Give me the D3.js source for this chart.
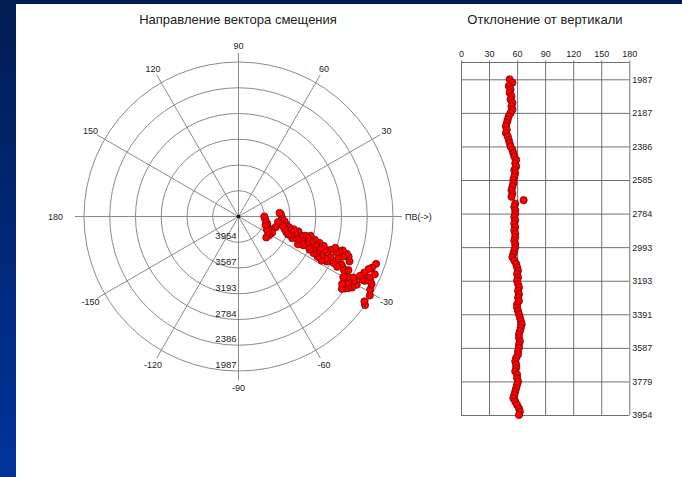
<!DOCTYPE html>
<html>
<head>
<meta charset="utf-8">
<script src="https://cdn.jsdelivr.net/npm/d3@7"></script>
<style>
  html, body { margin: 0; padding: 0; background: #ffffff; }
  svg { display: block; font-family: "Liberation Sans", Arial, sans-serif; }
</style>
</head>
<body>
<svg id="chart" width="682" height="477"></svg>
<script>
// Survey stations, index 0..100 (top to bottom of the well section)
const depthLabels = [1987, 2187, 2386, 2585, 2784, 2993, 3193, 3391, 3587, 3779, 3954];
const inclTicks = [0, 30, 60, 90, 120, 150, 180];
const angleTicks = [0, 30, 60, 90, 120, 150, 180, -150, -120, -90, -60, -30];
const zeroLabel = "ПВ(->)";

// Deviation from vertical, degrees, per station
const inclination = [
  52, 55, 51, 53, 52, 54, 53, 55, 54, 55, 53,
  51, 50, 49, 48, 49, 48, 50, 51, 52, 53,
  55, 56, 57, 59, 58, 59, 57, 58, 57, 56,
  56, 55, 54, 55, 54, 67, 58, 57, 58, 58,
  57, 58, 57, 58, 57, 58, 58, 57, 58, 58,
  57, 56, 55, 57, 59, 60, 61, 60, 61, 60,
  61, 62, 61, 62, 61, 62, 60, 60, 61, 62,
  63, 64, 65, 64, 63, 62, 62, 63, 62, 62,
  61, 61, 59, 58, 59, 59, 58, 60, 60, 61,
  60, 59, 58, 57, 56, 58, 60, 62, 63, 62
];

// Direction of the displacement vector, degrees (0 = ПВ, counter-clockwise positive)
const azimuth = [
  -35, -31, -34, -29, -27, -23, -26, -19, -25, -21, -27,
  -22, -27, -24, -30, -26, -32, -29, -33, -28, -34,
  -31, -35, -29, -33, -26, -30, -22, -27, -20, -26,
  -19, -25, -21, -27, -18, -23, -19, -26, -20, -25,
  -18, -24, -27, -20, -26, -22, -28, -21, -25, -19,
  -27, -21, -25, -18, -26, -20, -24, -17, -25, -19,
  -23, -15, -21, -17, -24, -16, -22, -18, -25, -17,
  -21, -14, -20, -16, -22, -13, -19, -15, -20, -12,
  -18, -10, -15, -6, -12, -2, 3, 5, -8, -16,
  -26, -31, -37, -28, -21, -24, -14, -17, -7, 0
];

const stations = inclination.map((v, i) => ({ i, incl: v, az: azimuth[i] }));

const svg = d3.select("#chart");
const W = 682, H = 477;
const polarGrid = "#8a8a8a";
const profGrid = "#707070";
const textColor = "#222";

// ---- slide frame: dark top band and blue gradient strip on the left
const defs = svg.append("defs");
const grad = defs.append("linearGradient").attr("id", "leftStrip")
  .attr("x1", 0).attr("y1", 0).attr("x2", 0).attr("y2", 1);
grad.append("stop").attr("offset", "0%").attr("stop-color", "#001d52");
grad.append("stop").attr("offset", "100%").attr("stop-color", "#00339c");
svg.append("rect").attr("x", 0).attr("y", 0).attr("width", W).attr("height", 4).attr("fill", "#001c50");
svg.append("rect").attr("x", 0).attr("y", 0).attr("width", 16).attr("height", H).attr("fill", "url(#leftStrip)");

// ---- titles
svg.append("text").attr("x", 238).attr("y", 24).attr("text-anchor", "middle")
  .attr("font-size", 13).attr("fill", textColor).text("Направление вектора смещения");
svg.append("text").attr("x", 545).attr("y", 24).attr("text-anchor", "middle")
  .attr("font-size", 13).attr("fill", textColor).text("Отклонение от вертикали");

// ---- polar plot
const cx = 238.5, cy = 216.5, R = 154.5;
const rScale = d3.scaleLinear().domain([120, 0]).range([0, R]);
const toXY = (deg, r) => {
  const a = deg * Math.PI / 180;
  return [cx + r * Math.cos(a), cy - r * Math.sin(a)];
};

const polar = svg.append("g");
const ringIdx = [100, 80, 60, 40, 20, 0];
polar.selectAll("circle.ring").data(ringIdx).join("circle")
  .attr("class", "ring")
  .attr("cx", cx).attr("cy", cy).attr("r", d => rScale(d))
  .attr("fill", "none").attr("stroke", polarGrid).attr("stroke-width", 1);

polar.selectAll("line.spoke").data(angleTicks).join("line")
  .attr("class", "spoke")
  .attr("x1", cx).attr("y1", cy)
  .attr("x2", d => toXY(d, R + 9)[0]).attr("y2", d => toXY(d, R + 9)[1])
  .attr("stroke", polarGrid).attr("stroke-width", 1);

polar.selectAll("text.ang").data(angleTicks).join("text")
  .attr("class", "ang")
  .attr("x", d => d === 0 ? toXY(0, R + 12)[0] : d === 180 ? toXY(180, R + 21)[0] : toXY(d, R + 16.5)[0])
  .attr("y", d => toXY(d, R + 16.5)[1])
  .attr("dy", "0.35em")
  .attr("text-anchor", d => d === 0 ? "start" : d === 180 ? "end" : "middle")
  .attr("font-size", 9).attr("fill", textColor)
  .text(d => d === 0 ? zeroLabel : d);

polar.selectAll("text.ringlab").data(ringIdx).join("text")
  .attr("class", "ringlab")
  .attr("x", cx - 2).attr("y", d => cy + rScale(d) - 3)
  .attr("text-anchor", "end")
  .attr("font-size", 9.5).attr("fill", textColor)
  .text(d => depthLabels[d / 10]);

polar.append("circle").attr("cx", cx).attr("cy", cy).attr("r", 1.8).attr("fill", "#111");

polar.selectAll("circle.pt").data(stations).join("circle")
  .attr("class", "pt")
  .attr("cx", d => toXY(d.az, rScale(d.i))[0])
  .attr("cy", d => toXY(d.az, rScale(d.i))[1])
  .attr("r", 3.6)
  .attr("fill", "#ff0000").attr("stroke", "#7a0000").attr("stroke-width", 0.8);

// ---- inclination profile
const x = d3.scaleLinear().domain([0, 180]).range([461, 629.3]);
const y = d3.scaleLinear().domain([0, 100]).range([79.3, 415]);
const yTop = y(-5), yBot = y(100);

const prof = svg.append("g");
const topAxis = d3.axisTop(x).tickValues(inclTicks).tickSize(-(yBot - yTop) - 2).tickPadding(4)
  .tickFormat(d3.format("d"));
prof.append("g").attr("transform", `translate(0,${yTop - 2})`).call(topAxis)
  .call(g => g.select(".domain").remove())
  .call(g => g.selectAll("line").attr("stroke", profGrid))
  .call(g => g.selectAll("text").attr("font-size", 9).attr("fill", textColor)
    .attr("font-family", "Liberation Sans, Arial, sans-serif"));

const rightAxis = d3.axisRight(y).tickValues(d3.range(0, 101, 10)).tickSize(-(x(180) - x(0))).tickPadding(3)
  .tickFormat(d => depthLabels[d / 10]);
prof.append("g").attr("transform", `translate(${x(180)},0)`).call(rightAxis)
  .call(g => g.select(".domain").remove())
  .call(g => g.selectAll("line").attr("stroke", profGrid))
  .call(g => g.selectAll("text").attr("font-size", 9).attr("fill", textColor)
    .attr("font-family", "Liberation Sans, Arial, sans-serif"));

prof.append("line").attr("x1", x(0)).attr("x2", x(180)).attr("y1", yTop).attr("y2", yTop)
  .attr("stroke", profGrid);

prof.selectAll("circle.pt").data(stations).join("circle")
  .attr("class", "pt")
  .attr("cx", d => x(d.incl)).attr("cy", d => y(d.i))
  .attr("r", 3.6)
  .attr("fill", "#ff0000").attr("stroke", "#7a0000").attr("stroke-width", 0.8);
</script>
</body>
</html>
